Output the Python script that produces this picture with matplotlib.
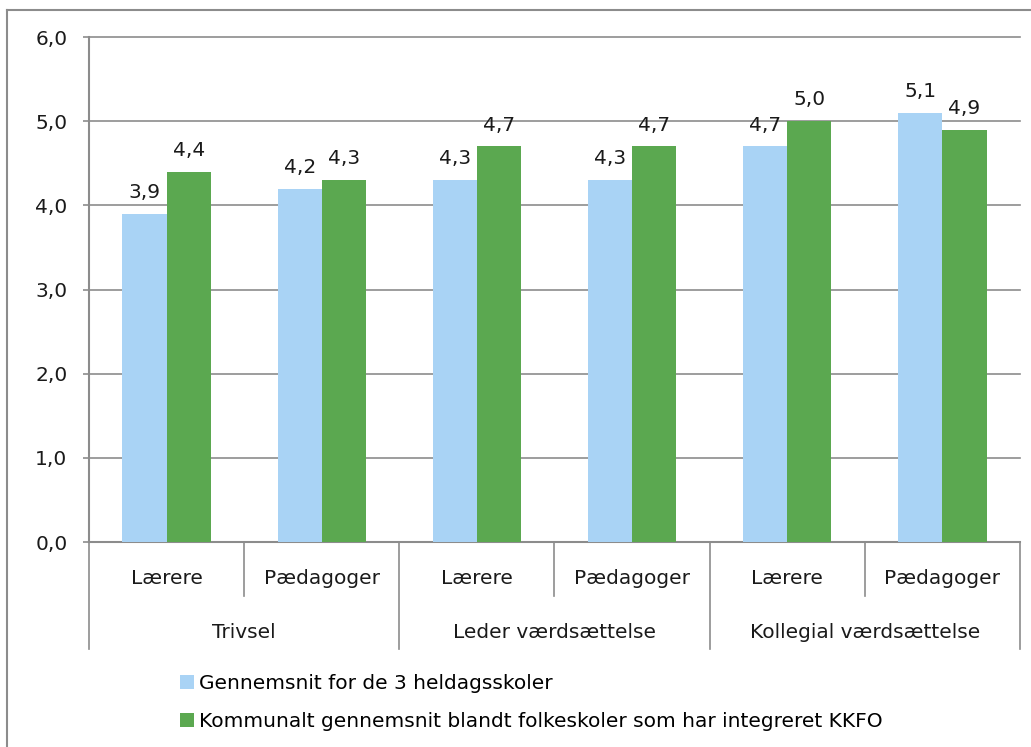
# grouped bar chart with a two-level category axis, Excel style
import matplotlib.pyplot as plt
import numpy as np
from matplotlib.lines import Line2D
from matplotlib.patches import Patch

groups = ['Trivsel', 'Leder værdsættelse', 'Kollegial værdsættelse']
subgroups = ['Lærere', 'Pædagoger']
series_names = ['Gennemsnit for de 3 heldagsskoler',
                'Kommunalt gennemsnit blandt folkeskoler som har integreret KKFO']
heldag = [3.9, 4.2, 4.3, 4.3, 4.7, 5.1]
kommunal = [4.4, 4.3, 4.7, 4.7, 5.0, 4.9]

blue = '#a9d3f5'
green = '#5ba850'
gray = '#8c8c8c'
fs = 14.5

plt.rcParams['font.family'] = 'DejaVu Sans'
W, H = 1031, 747
fig = plt.figure(figsize=(W / 100, H / 100), dpi=100)
ax = fig.add_axes([89 / W, 1 - 542 / H, (1020 - 89) / W, (542 - 37) / H])

x = np.arange(len(heldag))
bw = 0.285
b1 = ax.bar(x - bw / 2, heldag, width=bw, color=blue, zorder=3)
b2 = ax.bar(x + bw / 2, kommunal, width=bw, color=green, zorder=3)

for bars, vals in ((b1, heldag), (b2, kommunal)):
    for b, v in zip(bars, vals):
        ax.annotate(f'{v:.1f}'.replace('.', ','), (b.get_x() + b.get_width() / 2, v),
                    xytext=(0, 8.5), textcoords='offset points', ha='center', va='bottom',
                    fontsize=fs, color='#1a1a1a')

ax.set_xlim(-0.5, len(x) - 0.5)
ax.set_ylim(0, 6)
ax.set_yticks(np.arange(0, 7, 1))
ax.set_yticklabels([f'{v:.1f}'.replace('.', ',') for v in np.arange(0, 7, 1)])
ax.yaxis.grid(True, color=gray, linewidth=1.2, zorder=0)
for gl in ax.get_ygridlines():
    gl.set_clip_on(False)
ax.set_xticks([])
for s in ('top', 'right'):
    ax.spines[s].set_visible(False)
for s in ('left', 'bottom'):
    ax.spines[s].set_color(gray)
    ax.spines[s].set_linewidth(1.5)
ax.tick_params(axis='y', length=4.5, width=1.2, color=gray, pad=11, labelsize=fs,
               labelcolor='#1a1a1a')

# two-level category axis
tr = ax.get_xaxis_transform()
n_sub = len(subgroups)
for i, lab in enumerate([s for g in groups for s in subgroups]):
    ax.text(i, -0.0713, lab, transform=tr, ha='center', va='center', fontsize=fs,
            color='#1a1a1a')
for j, g in enumerate(groups):
    ax.text(j * n_sub + (n_sub - 1) / 2, -0.18, g, transform=tr, ha='center',
            va='center', fontsize=fs, color='#1a1a1a')
for e in np.arange(-0.5, len(x), 1.0):
    y_end = -0.212 if round(e + 0.5) % n_sub == 0 else -0.107
    ax.add_line(Line2D([e, e], [0, y_end], transform=tr, color=gray, lw=1.2,
                       clip_on=False))

handles = [Patch(facecolor=blue), Patch(facecolor=green)]
fig.legend(handles, series_names, loc='upper left', bbox_to_anchor=(180 / W, 1 - 674 / H),
           frameon=False, fontsize=fs, handlelength=0.7, handleheight=0.7,
           handletextpad=0.25, labelspacing=0.95, borderaxespad=0, borderpad=0)

# outer chart border (cut by the image edge on right and bottom)
fig.add_artist(Line2D([7 / W, 7 / W], [0, 1 - 10 / H], color=gray, lw=1.5))
fig.add_artist(Line2D([7 / W, 1], [1 - 10 / H, 1 - 10 / H], color=gray, lw=1.5))

fig.savefig('out.png', dpi=100)
